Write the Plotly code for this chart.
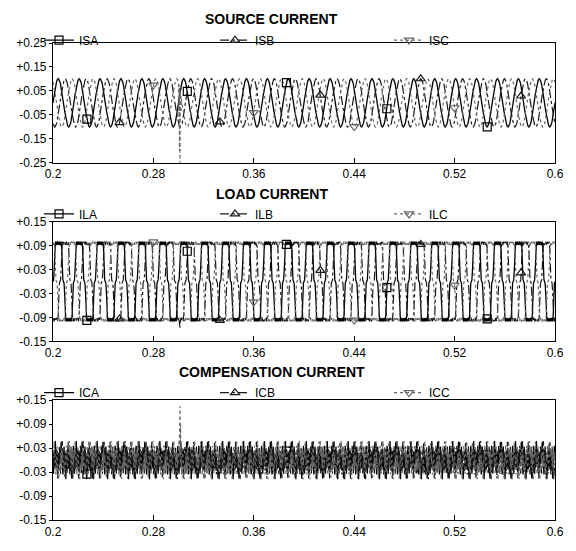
import numpy as np
import plotly.graph_objects as go

# ---------------- data ----------------
F_HZ = 60.0                 # supply frequency
T_START, T_END = 0.2, 0.6   # time window, s
SAMPLES_PER_CYCLE = 36      # one sample every 10 degrees
PHASE_LAG = {"A": 0, "B": 12, "C": 24}   # 0, 120, 240 degrees in samples

# one cycle of phase-A source current
SOURCE_CYCLE = [0.000, 0.017, 0.034, 0.050, 0.064, 0.077, 0.087, 0.094, 0.098,
                0.101, 0.098, 0.094, 0.087, 0.077, 0.064, 0.050, 0.034, 0.017,
                0.000, -0.017, -0.034, -0.050, -0.064, -0.077, -0.087, -0.094, -0.098,
                -0.101, -0.098, -0.094, -0.087, -0.077, -0.064, -0.050, -0.034, -0.017]

# one cycle of phase-A load current (rectifier type, flat tops with ripple)
LOAD_CYCLE = [0.000, 0.004, 0.030, 0.082, 0.096, 0.100, 0.091, 0.097, 0.100,
              0.092, 0.097, 0.100, 0.091, 0.097, 0.100, 0.082, 0.030, 0.004,
              0.000, -0.004, -0.030, -0.082, -0.096, -0.100, -0.091, -0.097, -0.100,
              -0.092, -0.097, -0.100, -0.091, -0.097, -0.100, -0.082, -0.030, -0.004]

# one cycle of phase-A compensation current (harmonics + switching ripple)
COMP_CYCLE = [0.018, -0.034, 0.015, 0.020, 0.048, 0.008, 0.027, -0.019, 0.023,
              -0.031, 0.018, -0.012, 0.026, 0.006, 0.046, 0.016, 0.013, -0.036,
              -0.018, 0.034, -0.015, -0.020, -0.048, -0.008, -0.027, 0.019, -0.023,
              0.031, -0.018, 0.012, -0.026, -0.006, -0.046, -0.016, -0.013, 0.036]

# transient near t = 0.30 s
SPIKE_T = [0.3004, 0.3008, 0.3012, 0.3016, 0.3020]
ISC_SPIKE = [-0.06, -0.20, -0.25, -0.12, -0.04]
ILB_SPIKE = [-0.090, -0.112, -0.116, -0.100, -0.090]
ICC_SPIKE = [0.050, 0.110, 0.135, 0.090, 0.040]

# marker times on each phase
MARK_T = {"A": [0.227, 0.307, 0.386, 0.466, 0.546],
          "B": [0.253, 0.333, 0.413, 0.493, 0.573],
          "C": [0.280, 0.360, 0.440, 0.520]}

X_TICKS = [0.2, 0.28, 0.36, 0.44, 0.52, 0.6]
X_TICKTEXT = ["0.2", "0.28", "0.36", "0.44", "0.52", "0.6"]
Y1_TICKS = [-0.25, -0.15, -0.05, 0.05, 0.15, 0.25]
Y1_TICKTEXT = ["-0.25", "-0.15", "-0.05", "+0.05", "+0.15", "+0.25"]
Y2_TICKS = [-0.15, -0.09, -0.03, 0.03, 0.09, 0.15]
Y2_TICKTEXT = ["-0.15", "-0.09", "-0.03", "+0.03", "+0.09", "+0.15"]

TITLES = ["SOURCE CURRENT", "LOAD CURRENT", "COMPENSATION CURRENT"]
NAMES = [["ISA", "ISB", "ISC"], ["ILA", "ILB", "ILC"], ["ICA", "ICB", "ICC"]]

# ---------------- build series ----------------
n_cycles = int(round((T_END - T_START) * F_HZ))
n_samp = n_cycles * SAMPLES_PER_CYCLE
t = T_START + np.arange(n_samp + 1) / (F_HZ * SAMPLES_PER_CYCLE)


def phase_series(cycle, phase):
    c = np.roll(np.asarray(cycle, dtype=float), PHASE_LAG[phase])
    y = np.tile(c, n_cycles)
    return np.append(y, c[0])


def with_spike(tt, yy, st, sy):
    ta = np.concatenate([tt, st])
    ya = np.concatenate([yy, sy])
    o = np.argsort(ta, kind="stable")
    return ta[o], ya[o]


series = []
for cyc in (SOURCE_CYCLE, LOAD_CYCLE, COMP_CYCLE):
    series.append({p: (t, phase_series(cyc, p)) for p in "ABC"})
series[0]["C"] = with_spike(*series[0]["C"], SPIKE_T, ISC_SPIKE)
series[1]["B"] = with_spike(*series[1]["B"], SPIKE_T, ILB_SPIKE)
series[2]["C"] = with_spike(*series[2]["C"], SPIKE_T, ICC_SPIKE)

# ---------------- figure ----------------
STYLE = {
    "A": dict(line=dict(color="#000000", width=1.3, dash="solid"), symbol="square-open"),
    "B": dict(line=dict(color="#1a1a1a", width=1.2, dash="dashdot"), symbol="triangle-up-open"),
    "C": dict(line=dict(color="#666666", width=1.2, dash="dot"), symbol="triangle-down-open"),
}
FONT = "Liberation Sans, Arial, sans-serif"

PLOT_L, PLOT_R = 53, 555          # plot area in px
LEG_TEXT_X = [79, 255, 429]        # legend text start in px
LEG_ROW_Y = [1.006, 0.6417, 0.267]  # legend row centres (paper)
domains = [[0.749, 1.0], [0.3745, 0.6255], [0.0, 0.251]]


def legend_name(k):
    return "legend" if k == 0 else f"legend{k + 1}"


fig = go.Figure()


def add_markers(i, xa, ya):
    for j, p in enumerate("ABC"):
        tt, yy = series[i][p]
        mt = MARK_T[p]
        my = np.interp(mt, tt, yy)
        xs, ys = [], []
        for a, b in zip(mt, my):
            xs += [a, None]
            ys += [float(b), None]
        fig.add_trace(go.Scatter(
            x=xs, y=ys, mode="lines+markers", name=NAMES[i][j],
            line=STYLE[p]["line"],
            marker=dict(symbol=STYLE[p]["symbol"], size=8,
                        color=STYLE[p]["line"]["color"], line=dict(width=1.2)),
            xaxis=xa, yaxis=ya, legend=legend_name(3 * i + j), connectgaps=False,
            hoverinfo="skip"))


for i in range(3):
    xa = "x" if i == 0 else f"x{i+1}"
    ya = "y" if i == 0 else f"y{i+1}"
    if i == 2:
        add_markers(i, xa, ya)
    for p in "ABC":
        tt, yy = series[i][p]
        fig.add_trace(go.Scatter(x=tt, y=yy, mode="lines", line=STYLE[p]["line"],
                                 xaxis=xa, yaxis=ya, showlegend=False,
                                 hoverinfo="skip"))
    if i != 2:
        add_markers(i, xa, ya)

axis_common = dict(showgrid=False, zeroline=False, showline=True, mirror=True,
                   linecolor="black", linewidth=1.2,
                   tickfont=dict(family=FONT, size=12, color="black"))

layout = dict(width=576, height=551, paper_bgcolor="white", plot_bgcolor="white",
              margin=dict(l=PLOT_L, r=576 - PLOT_R, t=43, b=14),
              font=dict(family=FONT, color="black"))

for i in range(3):
    sx = "" if i == 0 else str(i + 1)
    layout[f"xaxis{sx}"] = dict(axis_common, domain=[0, 1], anchor=f"y{sx}",
                                range=[T_START, T_END], tickvals=X_TICKS,
                                ticktext=X_TICKTEXT, ticks="inside", ticklen=5,
                                tickcolor="black")
    yt, ytt = (Y1_TICKS, Y1_TICKTEXT) if i == 0 else (Y2_TICKS, Y2_TICKTEXT)
    layout[f"yaxis{sx}"] = dict(axis_common, domain=domains[i], anchor=f"x{sx}",
                                range=[yt[0], yt[-1]], tickvals=yt, ticktext=ytt,
                                ticks="outside", ticklen=3, tickcolor="black")

pw = PLOT_R - PLOT_L
for i in range(3):
    for j in range(3):
        layout[legend_name(3 * i + j)] = dict(
            orientation="h", x=(LEG_TEXT_X[j] - 40 - PLOT_L) / pw, y=LEG_ROW_Y[i],
            xanchor="left", yanchor="middle", itemwidth=30,
            bgcolor="rgba(0,0,0,0)",
            font=dict(family=FONT, size=12, color="black"))

title_y = [1.0506, 0.684, 0.3097]
layout["annotations"] = [
    dict(text=f"<b>{TITLES[i]}</b>", x=0.436, y=title_y[i], xref="paper", yref="paper",
         xanchor="center", yanchor="middle", showarrow=False,
         font=dict(family=FONT, size=14, color="black"))
    for i in range(3)
]

fig.update_layout(**layout)
fig.write_html("out.html")
